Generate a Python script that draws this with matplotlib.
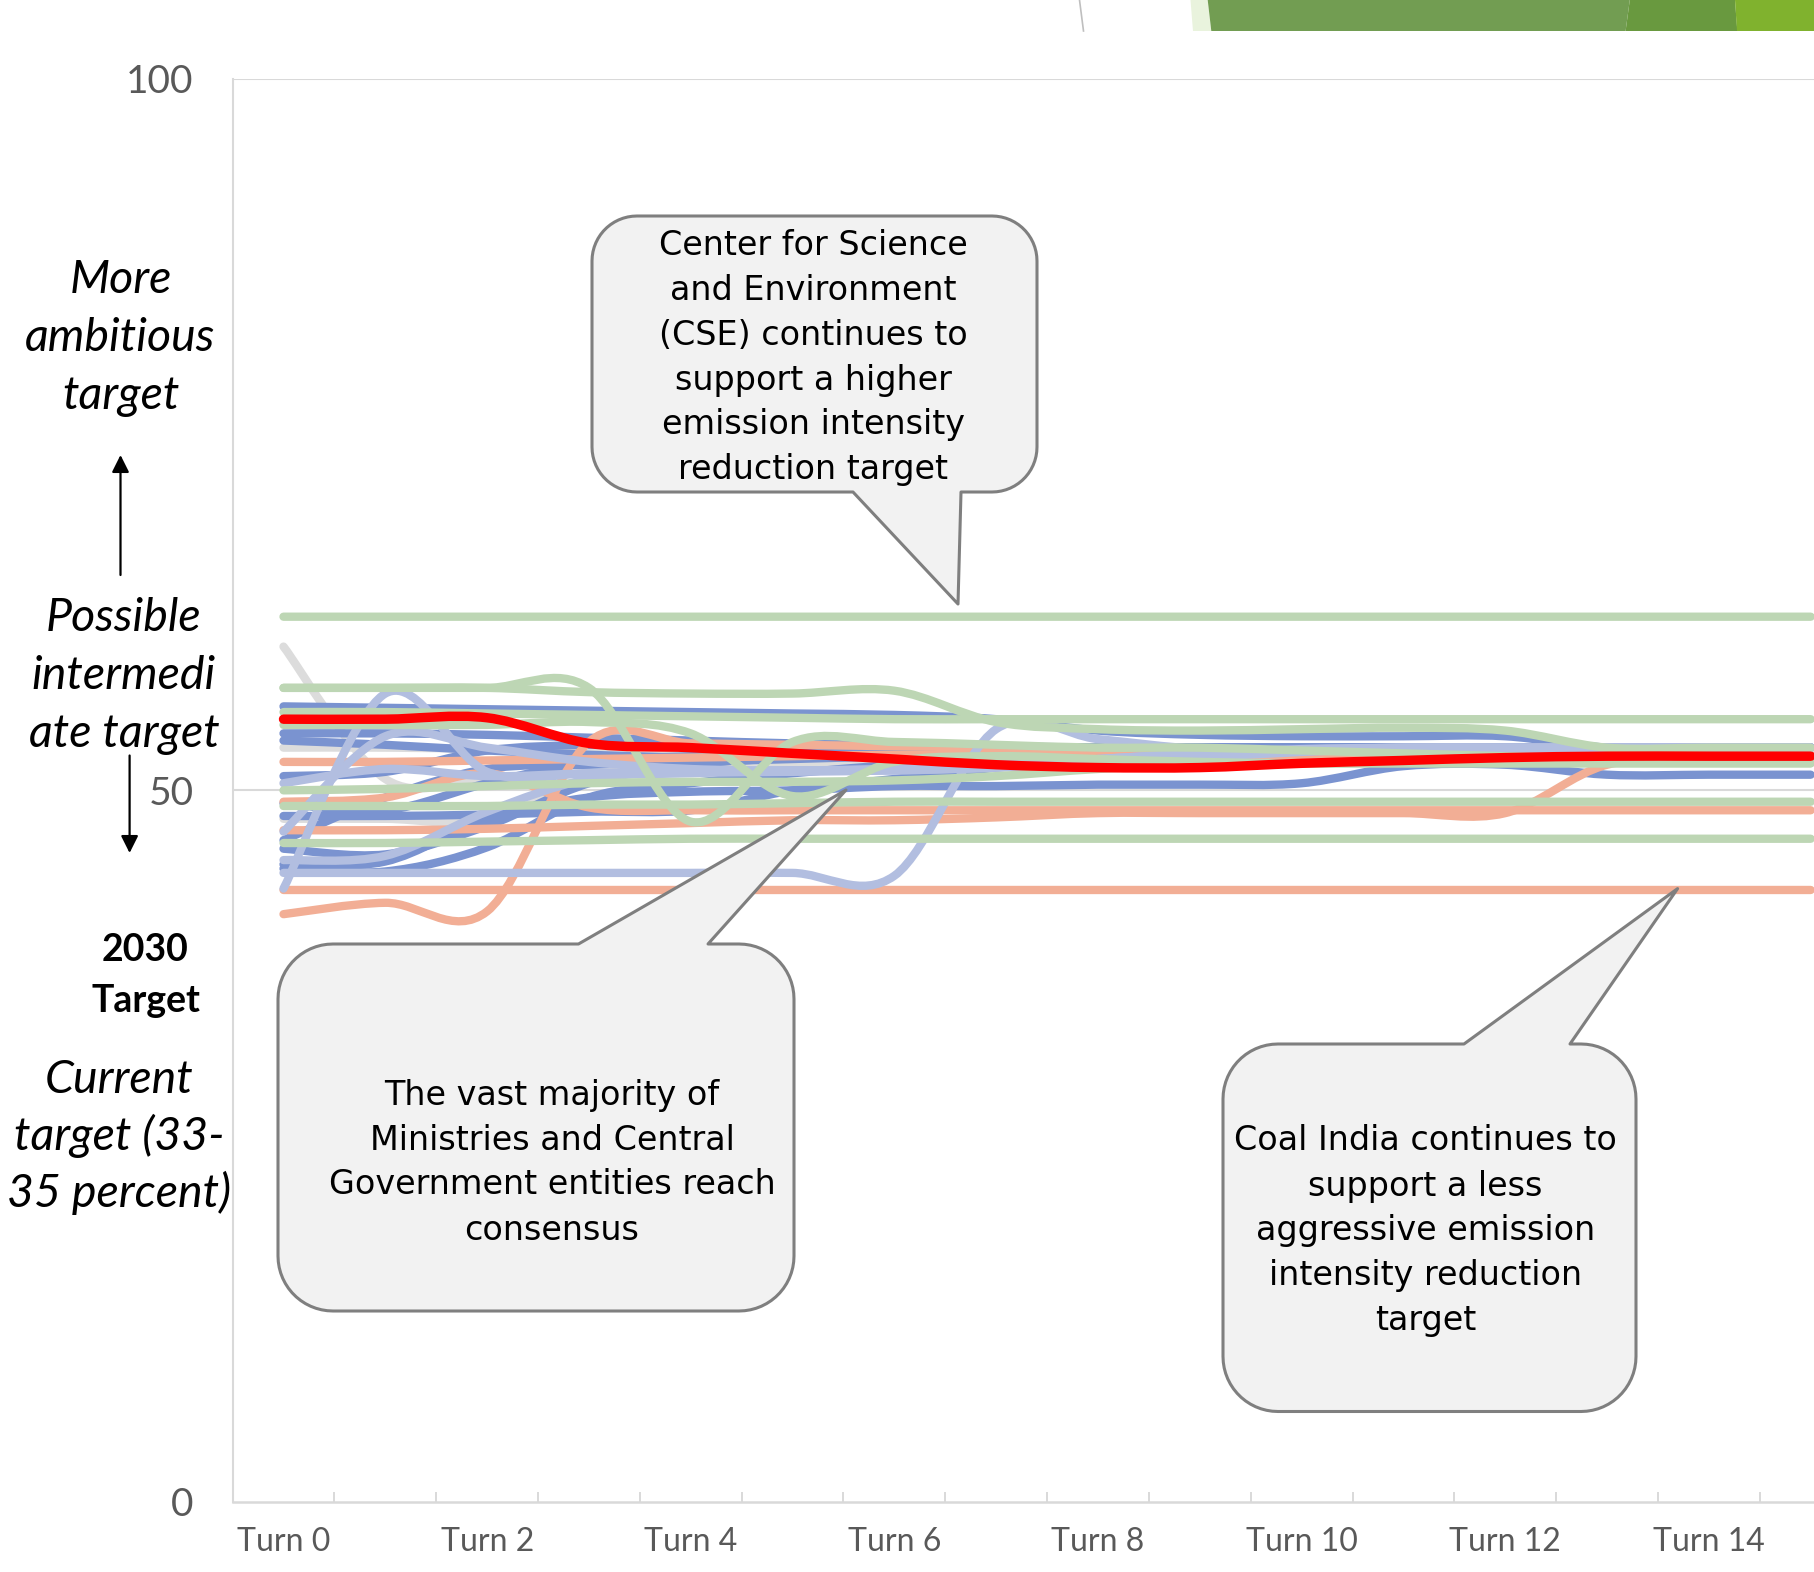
import numpy as np
import matplotlib
matplotlib.use("Agg")
import matplotlib.pyplot as plt
from matplotlib.path import Path
from matplotlib.patches import PathPatch, Polygon, FancyArrowPatch

W, H, DPI = 1814, 1572, 100

# ---------------- data ----------------
turns = [f"Turn {i}" for i in range(16)]
y_ticks = [0, 50, 100]

# grey actors
grey_1 = [60.1, 50.8, 50.9, 51.2, 51.5, 51.8, 52.0, 52.2, 52.3, 52.4, 52.4, 52.4, 52.4, 52.4, 52.4, 52.4]
grey_2 = [53.0, 53.0, 52.9, 52.7, 52.5, 52.4, 52.4, 52.4, 52.4, 52.4, 52.4, 52.4, 52.4, 52.4, 52.4, 52.4]
grey_3 = [48.0, 48.0, 47.9, 50.8, 51.3, 51.5, 51.7, 51.9, 52.0, 52.1, 52.2, 52.3, 52.4, 52.4, 52.4, 52.4]

# dark blue actors
dblue_1 = [55.9, 55.8, 55.7, 55.6, 55.5, 55.4, 55.3, 55.0, 54.2, 53.9, 53.8, 53.8, 53.8, 53.0, 53.0, 53.0]
dblue_2 = [54.0, 54.0, 53.9, 53.7, 53.5, 53.3, 53.2, 53.1, 53.0, 53.0, 53.0, 53.0, 53.0, 53.0, 53.0, 53.0]
dblue_3 = [51.0, 51.3, 52.8, 53.2, 53.2, 53.1, 53.0, 53.0, 53.0, 53.0, 53.0, 53.0, 53.0, 53.0, 53.0, 53.0]
dblue_4 = [49.1, 48.6, 50.5, 52.0, 52.4, 52.6, 52.8, 53.0, 53.0, 53.0, 53.0, 53.0, 53.0, 53.0, 53.0, 53.0]
dblue_5 = [45.9, 45.5, 47.5, 50.5, 51.8, 52.3, 52.7, 52.9, 53.0, 53.0, 53.0, 53.0, 53.0, 53.0, 53.0, 53.0]
dblue_6 = [44.5, 44.3, 46.0, 49.5, 50.5, 51.2, 51.8, 52.3, 52.7, 52.9, 53.0, 53.0, 53.0, 53.0, 53.0, 53.0]
dblue_7 = [44.8, 45.0, 48.0, 49.5, 49.9, 50.0, 50.3, 50.3, 50.4, 50.4, 50.5, 51.7, 51.8, 51.1, 51.1, 51.1]
dblue_8 = [48.2, 48.2, 48.3, 48.5, 48.6, 50.0, 50.8, 51.6, 52.2, 52.6, 52.9, 53.0, 53.0, 53.0, 53.0, 53.0]
dblue_9 = [53.5, 53.2, 52.8, 52.5, 52.3, 52.3, 52.4, 52.6, 52.8, 53.0, 53.0, 53.0, 53.0, 53.0, 53.0, 53.0]
dblue_10 = [46.5, 49.5, 51.5, 51.8, 52.0, 52.2, 52.4, 52.6, 52.8, 53.0, 53.0, 53.0, 53.0, 53.0, 53.0, 53.0]

# light blue actors
lblue_1 = [43.1, 56.8, 51.3, 51.2, 51.3, 51.4, 51.5, 51.8, 52.2, 52.6, 52.8, 53.0, 53.0, 53.0, 53.0, 53.0]
lblue_2 = [47.1, 53.8, 53.0, 52.0, 51.5, 51.4, 51.5, 51.8, 52.2, 52.6, 52.9, 53.0, 53.0, 53.0, 53.0, 53.0]
lblue_3 = [45.1, 45.4, 48.5, 50.8, 51.2, 51.3, 51.4, 51.6, 52.0, 52.4, 52.8, 53.0, 53.0, 53.0, 53.0, 53.0]
lblue_4 = [44.2, 44.2, 44.2, 44.2, 44.2, 44.2, 44.0, 54.3, 53.6, 52.9, 52.8, 52.7, 52.6, 52.5, 52.4, 52.4]
lblue_5 = [50.5, 51.5, 51.0, 51.2, 51.3, 51.4, 51.4, 51.6, 51.9, 52.3, 52.7, 52.9, 53.0, 53.0, 53.0, 53.0]

# salmon actors
salmon_1 = [43.0] * 16
salmon_2 = [41.3, 42.1, 41.5, 53.4, 53.3, 53.2, 53.1, 53.0, 52.9, 52.8, 52.7, 52.6, 52.5, 52.5, 52.5, 52.5]
salmon_3 = [52.0, 52.0, 52.1, 52.2, 52.3, 52.4, 52.5, 52.5, 52.5, 52.5, 52.5, 52.5, 52.5, 52.5, 52.5, 52.5]
salmon_4 = [47.2, 47.2, 47.3, 47.5, 47.7, 47.9, 47.9, 48.1, 48.4, 48.4, 48.4, 48.4, 48.4, 51.8, 52.0, 52.0]
salmon_5 = [49.2, 49.5, 51.2, 48.8, 48.6, 48.6, 48.6, 48.6, 48.6, 48.6, 48.6, 48.6, 48.6, 48.6, 48.6, 48.6]

# green actors
green_1 = [62.2] * 16
green_2 = [57.2, 57.2, 57.2, 56.9, 56.8, 56.8, 57.0, 54.8, 54.3, 54.2, 54.3, 54.4, 54.2, 53.0, 53.0, 53.0]
green_3 = [57.2, 57.2, 57.2, 57.2, 47.8, 53.4, 53.4, 53.2, 53.0, 53.0, 52.8, 52.6, 52.4, 52.2, 52.0, 52.0]
green_4 = [54.6, 54.6, 54.6, 54.8, 54.0, 49.6, 52.0, 52.4, 52.2, 52.0, 51.9, 51.9, 51.9, 51.9, 51.9, 51.9]
green_5 = [55.5, 55.5, 55.4, 55.3, 55.2, 55.1, 55.0, 55.0, 55.0, 55.0, 55.0, 55.0, 55.0, 55.0, 55.0, 55.0]
green_6 = [50.0, 50.1, 50.3, 50.5, 50.6, 50.6, 50.7, 51.0, 51.5, 51.8, 51.9, 51.9, 51.9, 51.9, 51.9, 51.9]
green_7 = [48.9, 48.9, 48.9, 49.0, 49.0, 49.1, 49.2, 49.2, 49.2, 49.2, 49.2, 49.2, 49.2, 49.2, 49.2, 49.2]
green_8 = [46.3, 46.3, 46.4, 46.5, 46.6, 46.6, 46.6, 46.6, 46.6, 46.6, 46.6, 46.6, 46.6, 46.6, 46.6, 46.6]

# consensus (red)
consensus = [55.0, 55.0, 55.1, 53.3, 53.0, 52.6, 52.2, 51.8, 51.6, 51.6, 51.9, 52.1, 52.3, 52.4, 52.4, 52.4]

groups = [
    ("#DCDCDC", [grey_1, grey_2, grey_3]),
    ("#7A93D0", [dblue_1, dblue_2, dblue_3, dblue_4, dblue_5, dblue_6, dblue_7,
                 dblue_8, dblue_9, dblue_10]),
    ("#F2AE95", [salmon_1, salmon_2, salmon_3, salmon_4, salmon_5]),
    ("#B2BEE0", [lblue_1, lblue_2, lblue_3, lblue_4, lblue_5]),
    ("#BDD6B4", [green_1, green_2, green_3, green_4, green_5, green_6, green_7, green_8]),
]

# ---------------- helpers ----------------
def smooth_path(values):
    """Excel-like smoothed line: cubic Bezier through every data point."""
    P = np.column_stack([np.arange(len(values), dtype=float), np.asarray(values, float)])
    E = np.vstack([P[0], P, P[-1]])
    verts = [P[0]]
    codes = [Path.MOVETO]
    for i in range(len(P) - 1):
        p0, p1, p2, p3 = E[i], E[i + 1], E[i + 2], E[i + 3]
        c1 = p1 + (p2 - p0) / 6.0
        c2 = p2 - (p3 - p1) / 6.0
        verts += [c1, c2, p2]
        codes += [Path.CURVE4] * 3
    return Path(np.array(verts), codes)


def fx(X):
    return X / W


def fy(Y):
    return 1 - Y / H


def callout(x0, y0, x1, y1, r, side, bx0, bx1, tip):
    pts = []

    def arc(cx, cy, a0, a1):
        for a in np.linspace(np.radians(a0), np.radians(a1), 16):
            pts.append((cx + r * np.cos(a), cy + r * np.sin(a)))

    pts.append((x0 + r, y0))
    if side == "top":
        pts += [(bx0, y0), tip, (bx1, y0)]
    pts.append((x1 - r, y0))
    arc(x1 - r, y0 + r, -90, 0)
    arc(x1 - r, y1 - r, 0, 90)
    if side == "bottom":
        pts += [(bx1, y1), tip, (bx0, y1)]
    arc(x0 + r, y1 - r, 90, 180)
    arc(x0 + r, y0 + r, 180, 270)
    pts = [(fx(a), fy(b)) for a, b in pts]
    poly = Polygon(pts, closed=True, transform=fig.transFigure, facecolor="#F2F2F2",
                   edgecolor="#7F7F7F", linewidth=2.2, joinstyle="round", zorder=5)
    fig.add_artist(poly)


def text_lines(lines, cx, ycs, size, **kw):
    em = size * DPI / 72.0
    for s, yc in zip(lines, ycs):
        fig.text(fx(cx), fy(yc + 0.36 * em), s, ha="center", va="baseline",
                 fontsize=size, zorder=6, **kw)


# ---------------- figure ----------------
fig = plt.figure(figsize=(W / DPI, H / DPI), dpi=DPI)
fig.patch.set_facecolor("white")

ax_left, ax_right = 232.6, 1861.6
ax_top, ax_bot = 78.7, 1502.0
ax = fig.add_axes([ax_left / W, 1 - ax_bot / H, (ax_right - ax_left) / W, (ax_bot - ax_top) / H])
ax.set_xlim(-0.5, 15.5)
ax.set_ylim(0, 100)

for sp in ("top", "right"):
    ax.spines[sp].set_visible(False)
ax.spines["left"].set_color("#D9D9D9")
ax.spines["left"].set_linewidth(1.5)
ax.spines["bottom"].set_color("#D9D9D9")
ax.spines["bottom"].set_linewidth(1.8)
for g in (50, 100):
    ax.axhline(g, color="#D9D9D9", lw=1.5, zorder=0.5)

ax.set_yticks(y_ticks)
ax.set_yticklabels([str(v) for v in y_ticks])
ax.tick_params(axis="y", length=0, pad=28, labelsize=28, labelcolor="#595959")
for lab in ax.get_yticklabels():
    lab.set_family("Lato")

ax.set_xticks(list(range(0, 16, 2)))
ax.set_xticklabels(turns[0::2])
ax.set_xticks(np.arange(0.5, 15.0, 1.0), minor=True)
ax.tick_params(axis="x", which="major", length=0, pad=18, labelsize=23, labelcolor="#595959")
ax.tick_params(axis="x", which="minor", direction="in", length=7, width=1.4, color="#D9D9D9")
for lab in ax.get_xticklabels():
    lab.set_family("Lato")

z = 2
for color, series in groups:
    for vals in series:
        ax.add_patch(PathPatch(smooth_path(vals), fill=False, edgecolor=color, lw=6.0,
                               capstyle="round", joinstyle="round", zorder=z))
        z += 0.01
ax.add_patch(PathPatch(smooth_path(consensus), fill=False, edgecolor="#FF0000", lw=6.8,
                       capstyle="round", joinstyle="round", zorder=4))

# ---------------- top decoration ----------------
def band(pts, color):
    fig.add_artist(Polygon([(fx(a), fy(b)) for a, b in pts], closed=True,
                           transform=fig.transFigure, facecolor=color, edgecolor="none", zorder=1))

band([(1190.5, 0), (1207.7, 0), (1211.3, 31), (1193, 31)], "#E9F3DD")
band([(1207.7, 0), (1629.8, 0), (1625.6, 31), (1211.3, 31)], "#729D52")
band([(1629.8, 0), (1735, 0), (1737.3, 31), (1625.6, 31)], "#69993F")
band([(1735, 0), (1814, 0), (1814, 31), (1737.3, 31)], "#80B22E")
fig.add_artist(plt.Line2D([fx(1079.5), fx(1083.5)], [fy(0), fy(31)], transform=fig.transFigure,
                          color="#BFBFBF", lw=1.2, zorder=1))

# ---------------- left annotations ----------------
ital = dict(family="Lato", style="italic", color="black")
text_lines(["More", "ambitious", "target"], 120.5, [276.5, 334, 392], 33.5, **ital)
text_lines(["Possible", "intermedi", "ate target"], 124, [614, 672, 730], 33.5, **ital)
text_lines(["2030", "Target"], 145.5, [947.6, 998.5], 27, family="Lato", weight="bold", color="black")
text_lines(["Current", "target (33-", "35 percent)"], 119, [1076, 1133, 1190.6], 33.5, **ital)

for (xa, ya), (xb, yb) in [((120.5, 575), (120.5, 455)), ((129.6, 755.5), (129.6, 853))]:
    fig.add_artist(FancyArrowPatch((fx(xa), fy(ya)), (fx(xb), fy(yb)), transform=fig.transFigure,
                                   arrowstyle="-|>", mutation_scale=26, lw=1.6, color="black",
                                   shrinkA=0, shrinkB=0, zorder=6))

# ---------------- callouts ----------------
callout(592, 216, 1037, 492, 45, "bottom", 853, 961, (958, 604))
text_lines(["Center for Science", "and Environment", "(CSE) continues to", "support a higher",
            "emission intensity", "reduction target"], 813.5,
           [243, 288, 333, 378, 422, 467], 24, family="DejaVu Sans", color="black")

callout(278, 944, 794, 1311, 55, "top", 578.5, 708, (846, 790))
text_lines(["The vast majority of", "Ministries and Central", "Government entities reach",
            "consensus"], 552, [1093.4, 1138.5, 1182.5, 1227.6], 24, family="DejaVu Sans", color="black")

callout(1223, 1044, 1636, 1411.5, 55, "top", 1464, 1570, (1677.6, 888.6))
text_lines(["Coal India continues to", "support a less", "aggressive emission",
            "intensity reduction", "target"], 1425.5,
           [1138.5, 1183.6, 1227.6, 1272.7, 1317.8], 24, family="DejaVu Sans", color="black")

fig.savefig("out.png", dpi=DPI, facecolor="white")
